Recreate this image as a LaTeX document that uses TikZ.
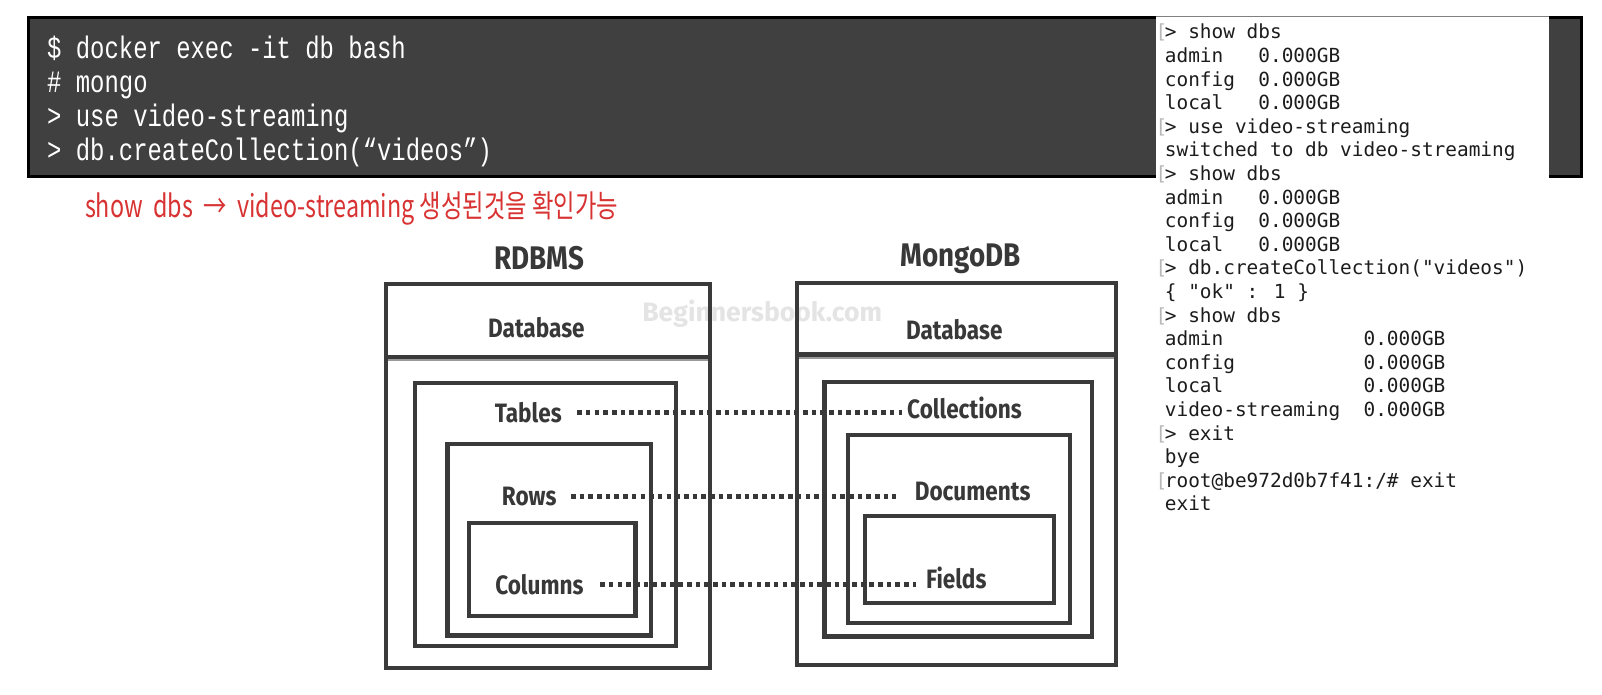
\documentclass[tikz,border=0pt]{standalone}
\usepackage{fontspec}
\setmainfont{Fira Sans}
\newfontfamily\darkmono{Liberation Mono}
\newfontfamily\menlo{DejaVu Sans Mono}
\newfontfamily\krfont{Noto Sans CJK KR}
\newfontfamily\lblfont{Fira Sans}
\definecolor{boxc}{HTML}{3A3A3A}
\definecolor{labc}{HTML}{383838}
\definecolor{darkc}{HTML}{404040}
\definecolor{outc}{HTML}{1C1C1C}
\definecolor{brc}{HTML}{B8B8B8}
\definecolor{redc}{HTML}{D83232}
\definecolor{wmc}{HTML}{E4E4E4}
\definecolor{divc}{HTML}{9A9A9A}
\newcommand{\condtxt}[1]{\scalebox{0.85}[1]{#1}}
\newcommand{\talltxt}[1]{\scalebox{1}[1.3]{#1}}
\begin{document}
\begin{tikzpicture}[x=1pt,y=-1pt,
  boxline/.style={draw=boxc,line width=4pt},
  term/.style={anchor=base west,inner sep=0pt,text=white,font=\darkmono\fontsize{23.4}{24}\selectfont},
  outl/.style={anchor=base west,inner sep=0pt,text=outc,font=\menlo\fontsize{19}{20}\selectfont},
  brk/.style={anchor=base west,inner sep=0pt,text=brc,font=\menlo\fontsize{19}{20}\selectfont},
  lab/.style={inner sep=0pt,text=labc,font=\lblfont\bfseries\fontsize{26}{26}\selectfont},
  ttl/.style={inner sep=0pt,text=labc,font=\lblfont\bfseries\fontsize{32}{32}\selectfont},
  dots/.style={draw=labc,line width=5pt,dash pattern=on 4.5pt off 4pt}]
\useasboundingbox[fill=white] (0,0) rectangle (1568,679.3);

% dark terminal box
\draw[line width=3pt,draw=black,fill=darkc] (28,17) rectangle (1548,173);
\node[term] (t1) at (46,57) {\talltxt{\$ docker exec -it db bash}};
\node[term] (t2) at (46,90.5) {\talltxt{\# mongo}};
\node[term] (t3) at (46,124) {\talltxt{> use video-streaming}};
\node[term] (t4) at (46,157.5) {\talltxt{> db.createCollection(“videos”)}};

% white output panel
\fill[white] (1131,16) rectangle (1516,512);
\draw[draw=gray,line width=0.8pt] (1131,16) -- (1516,16);
\foreach \i/\txt/\b in {
  1/{> show dbs}/1,
  2/{admin~~~0.000GB}/0,
  3/{config~~0.000GB}/0,
  4/{local~~~0.000GB}/0,
  5/{> use video-streaming}/1,
  6/{switched to db video-streaming}/0,
  7/{> show dbs}/1,
  8/{admin~~~0.000GB}/0,
  9/{config~~0.000GB}/0,
  10/{local~~~0.000GB}/0,
  11/{> db.createCollection("videos")}/1,
  12/{\{ "ok" : 1 \}}/0,
  13/{> show dbs}/1,
  14/{admin~~~~~~~~~~~~0.000GB}/0,
  15/{config~~~~~~~~~~~0.000GB}/0,
  16/{local~~~~~~~~~~~~0.000GB}/0,
  17/{video-streaming~~0.000GB}/0,
  18/{> exit}/1,
  19/{bye}/0,
  20/{root@be972d0b7f41:/\# exit}/1,
  21/{exit}/0}{
  \node[outl] (o\i) at (1140,{38+23.1*(\i-1)}) {\txt};
  \ifnum\b=1
    \node[brk] (b\i) at (1131,{38+23.1*(\i-1)}) {[};
  \fi
}

% red handwritten note
\node[anchor=west,inner sep=0pt,text=redc] (note) at (83,204)
  {\resizebox*{522pt}{33pt}{\krfont\fontsize{24}{24}\selectfont show~~dbs~~→~~video-streaming 생성된것을 확인가능}};

% watermark
\node[inner sep=0pt,text=wmc,font=\lblfont\bfseries\fontsize{26}{26}\selectfont] (wm) at (746,307) {Beginnersbook.com};

% RDBMS
\node[ttl] (rt) at (528,253) {\condtxt{RDBMS}};
\draw[boxline] (378,278) rectangle (695,654);
\draw[draw=divc,line width=2pt] (380,352) -- (693,352);
\draw[boxline] (378,349) -- (695,349);
\node[lab] (rdb) at (525,321) {\condtxt{Database}};
\draw[boxline] (406,375) rectangle (662,632);
\node[lab] (tables) at (517,404) {\condtxt{Tables}};
\draw[boxline] (438,435) rectangle (637,622);
\node[lab] (rows) at (518,486) {\condtxt{Rows}};
\draw[boxline] (459,512) rectangle (622,603);
\node[lab] (cols) at (528,572) {\condtxt{Columns}};

% MongoDB
\node[ttl] (mt) at (940,253) {\condtxt{MongoDB}};
\draw[boxline] (780,277) rectangle (1092,651);
\draw[draw=divc,line width=2pt] (782,350) -- (1090,350);
\draw[boxline] (780,347) -- (1092,347);
\node[lab] (mdb) at (934,323) {\condtxt{Database}};
\draw[boxline] (807,374) rectangle (1069,623);
\node[lab] (coll) at (944,399) {\condtxt{Collections}};
\draw[boxline] (830,426) rectangle (1047,610);
\node[lab] (docs) at (952,481) {\condtxt{Documents}};
\draw[boxline] (847,505) rectangle (1032,590);
\node[lab] (fields) at (936,566) {\condtxt{Fields}};

% dotted connectors
\draw[dots] ([xshift=15pt]tables.east) -- ([xshift=-5pt]coll.west |- tables.east);
\draw[dots] ([xshift=14pt]rows.east) -- ([xshift=-18pt]docs.west |- rows.east);
\draw[dots] ([xshift=16pt]cols.east) -- ([xshift=-10pt]fields.west |- cols.east);
\end{tikzpicture}
\end{document}
